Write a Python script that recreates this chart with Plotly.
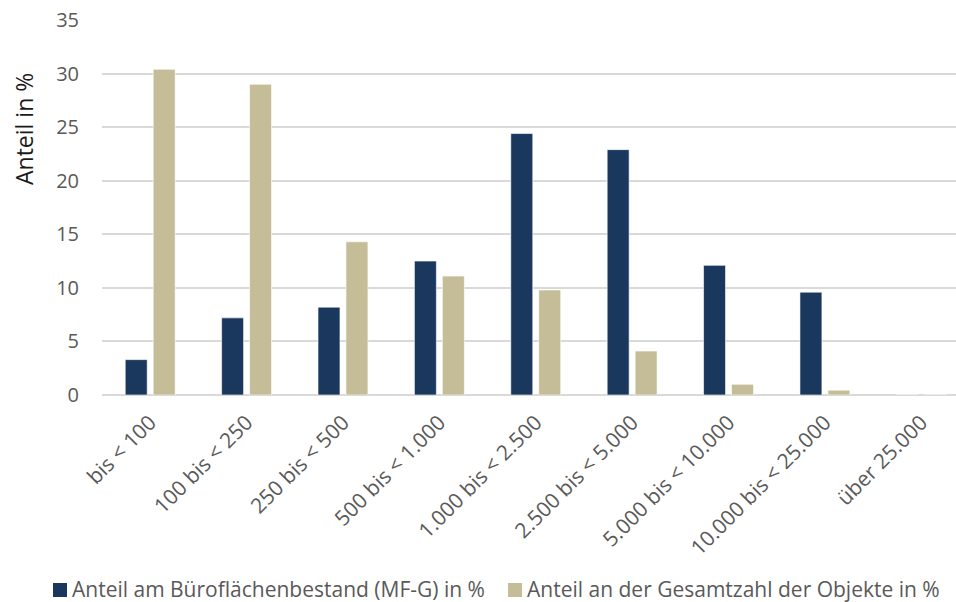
import plotly.graph_objects as go

categories = [
    "bis < 100", "100 bis < 250", "250 bis < 500", "500 bis < 1.000",
    "1.000 bis < 2.500", "2.500 bis < 5.000", "5.000 bis < 10.000",
    "10.000 bis < 25.000", "über 25.000",
]
anteil_bestand = [3.3, 7.2, 8.2, 12.5, 24.4, 22.9, 12.1, 9.6, 0.0]
anteil_objekte = [30.4, 29.0, 14.3, 11.1, 9.8, 4.1, 1.0, 0.45, 0.0]

name_bestand = "Anteil am Büroflächenbestand (MF-G) in %"
name_objekte = "Anteil an der Gesamtzahl der Objekte in %"
y_title = "Anteil in %"

NAVY = "#1A375E"
BEIGE = "#C4BD97"
GRAY_TEXT = "#595959"
FONT = "Open Sans, Liberation Sans, sans-serif"
W, H = 956, 602
PLOT_L, PLOT_T, PLOT_W, PLOT_H = 102, 20, 854, 375


def px_x(x):
    return (x - PLOT_L) / PLOT_W


def px_y(y):
    return 1 - (y - PLOT_T) / PLOT_H


fig = go.Figure()
for name, values, color in [(name_bestand, anteil_bestand, NAVY),
                            (name_objekte, anteil_objekte, BEIGE)]:
    fig.add_trace(go.Bar(
        x=categories, y=values, name=name, showlegend=False,
        marker=dict(color=color, line=dict(color="rgba(255,255,255,0.6)", width=1)),
    ))

fig.update_layout(
    width=W, height=H,
    margin=dict(l=PLOT_L, r=W - PLOT_L - PLOT_W, t=PLOT_T, b=H - PLOT_T - PLOT_H),
    paper_bgcolor="white", plot_bgcolor="white",
    barmode="group", bargap=0.42, bargroupgap=0.214,
    font=dict(family=FONT, color=GRAY_TEXT, size=20),
)

# y-axis title as a rotated annotation in the upper part of the axis
fig.add_annotation(
    text=y_title, xref="paper", yref="paper",
    x=px_x(24), y=px_y(129), xanchor="center", yanchor="middle",
    textangle=-90, showarrow=False,
    font=dict(size=23, color="#1a1a1a", family=FONT),
)

# legend row below the category labels: square swatch + label per series
legend_items = [(name_bestand, NAVY, 53), (name_objekte, BEIGE, 508)]
legend_y = 590
for name, color, x0 in legend_items:
    fig.add_shape(
        type="rect", xref="paper", yref="paper",
        x0=px_x(x0), x1=px_x(x0 + 14),
        y0=px_y(legend_y + 7), y1=px_y(legend_y - 7),
        fillcolor=color, line=dict(width=0),
    )
    fig.add_annotation(
        text=name, xref="paper", yref="paper",
        x=px_x(x0 + 17), y=px_y(legend_y - 1),
        xanchor="left", yanchor="middle", showarrow=False,
        font=dict(size=21, color=GRAY_TEXT, family=FONT),
    )

fig.update_xaxes(
    range=[-0.5, 8.36], tickangle=-45, automargin=False,
    tickfont=dict(size=21, color=GRAY_TEXT, family=FONT),
    ticklabelstandoff=10,
    showgrid=False, showline=False, zeroline=False, ticks="",
)
fig.update_yaxes(
    range=[0, 35], dtick=5, tick0=0, automargin=False,
    showgrid=True, gridcolor="#D9D9D9", gridwidth=1.5,
    zeroline=True, zerolinecolor="#D9D9D9", zerolinewidth=1.5,
    showline=False, ticks="",
    tickfont=dict(size=20, color=GRAY_TEXT, family=FONT),
    ticklabelstandoff=22,
)

fig.write_html("out.html")
